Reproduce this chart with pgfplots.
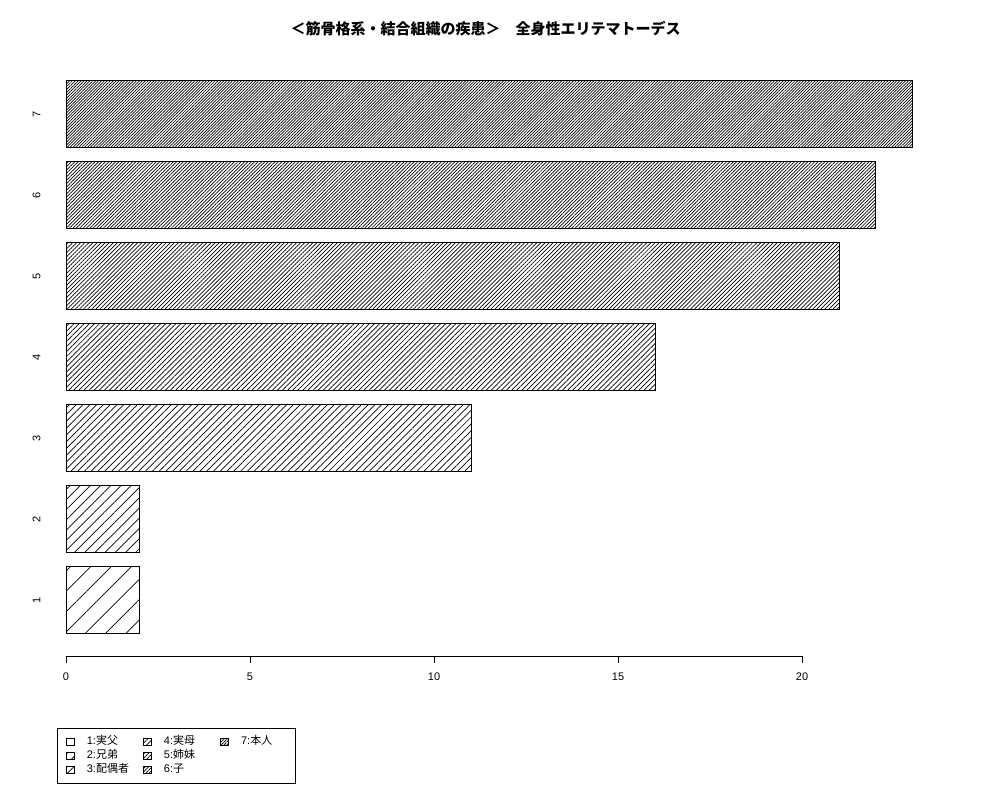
\documentclass[border=0pt]{standalone}
\usepackage{fontspec}
\setmainfont{Liberation Sans}
\newfontfamily\cjk{Noto Sans CJK JP}
\usepackage{pgfplots}
\pgfplotsset{compat=1.18}
\usetikzlibrary{patterns.meta}

% hatch spacing follows R density = 5, 10, ..., 35 lines per inch
\tikzset{
  hatch/.style={draw=black, line width=0.6pt,
    pattern={Lines[angle=45,distance=#1pt,line width=0.7pt]}, pattern color=black}
}

\begin{document}
\begin{tikzpicture}
\begin{axis}[
  at={(47.6pt,144pt)}, anchor=south west,
  scale only axis, width=920pt, height=596pt,
  xmin=-0.5, xmax=24.5, ymin=0.3086, ymax=7.667,
  xbar, bar width=0.8333, bar shift=0pt,
  axis x line*=bottom, axis y line*=left,
  axis line style={draw=none},
  xtick={0,5,10,15,20}, xtick align=outside,
  major tick length=7pt,
  x tick style={black, line width=0.75pt},
  ytick={1,2,3,4,5,6,7}, y tick style={draw=none},
  /pgf/number format/assume math mode=true,
  ticklabel style={font=\fontsize{11}{13}\selectfont},
  xticklabel shift=6pt,
  yticklabel style={rotate=90, anchor=south, inner sep=0pt},
  yticklabel shift=0pt,
  legend columns=3,
  legend cell align=left,
  legend image code/.code={\draw[#1] (0pt,-3.5pt) rectangle (8pt,3.5pt);},
  legend style={at={(0.0102,-0.1208)}, anchor=north west,
    draw=black, line width=0.6pt,
    font=\fontsize{11}{13}\selectfont,
    inner xsep=9pt, inner ysep=7.5pt, row sep=2.5pt,
    nodes={inner sep=0pt, text height=9pt, text depth=2.5pt},
    /tikz/every odd column/.append style={column sep=12pt},
    /tikz/every even column/.append style={column sep=11.5pt, text width=45pt}},
]
\addplot[hatch=14.4, forget plot] coordinates {(2,1)};
\addplot[hatch=7.2, forget plot] coordinates {(2,2)};
\addplot[hatch=4.8, forget plot] coordinates {(11,3)};
\addplot[hatch=3.6, forget plot] coordinates {(16,4)};
\addplot[hatch=2.88, forget plot] coordinates {(21,5)};
\addplot[hatch=2.4, forget plot] coordinates {(22,6)};
\addplot[hatch=2.06, forget plot] coordinates {(23,7)};
% legend filled row by row, in R's column order
\addlegendimage{hatch=14.4}\addlegendentry{1:{\cjk 実父}}
\addlegendimage{hatch=3.6}\addlegendentry{4:{\cjk 実母}}
\addlegendimage{hatch=2.06}\addlegendentry{7:{\cjk 本人}}
\addlegendimage{hatch=7.2}\addlegendentry{2:{\cjk 兄弟}}
\addlegendimage{hatch=2.88}\addlegendentry{5:{\cjk 姉妹}}
\addlegendimage{empty legend}\addlegendentry{}
\addlegendimage{hatch=4.8}\addlegendentry{3:{\cjk 配偶者}}
\addlegendimage{hatch=2.4}\addlegendentry{6:{\cjk 子}}
\draw[black, line width=0.75pt] (axis cs:0,0.3086) -- (axis cs:20,0.3086);
\end{axis}
\node[font=\cjk\bfseries\fontsize{15}{17}\selectfont] at (485.5pt,771pt)
  {＜筋骨格系・結合組織の疾患＞　全身性エリテマトーデス};
\pgfresetboundingbox
\path (0,0) rectangle (1000pt,800pt);
\end{tikzpicture}
\end{document}
